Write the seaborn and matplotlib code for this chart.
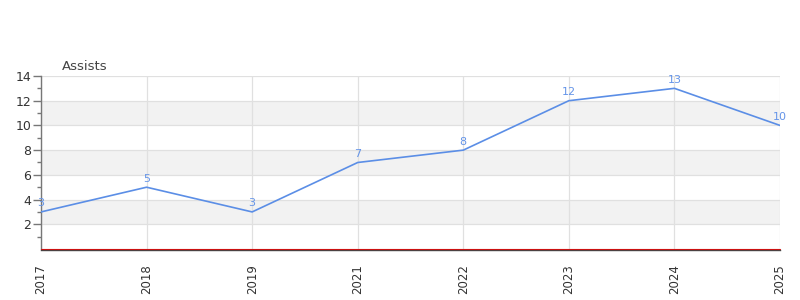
import matplotlib
matplotlib.use("Agg")
import matplotlib.pyplot as plt
import seaborn as sns
import pandas as pd

years = ["2017", "2018", "2019", "2021", "2022", "2023", "2024", "2025"]
assists = [3, 5, 3, 7, 8, 12, 13, 10]

df = pd.DataFrame({"year": years, "assists": assists})

sns.set_theme(style="white")
plt.rcParams["font.family"] = ["DejaVu Sans"]

fig = plt.figure(figsize=(8, 3), dpi=100)
ax = fig.add_axes([0.05125, 0.17, 0.92375, 0.5767])

# alternating bands
for lo in [2, 6, 10]:
    ax.axhspan(lo, lo + 2, color="#f2f2f2", zorder=0, lw=0)

sns.lineplot(data=df, x="year", y="assists", ax=ax, color="#5b8ee6", lw=1.2, zorder=3)

for i, (y, v) in enumerate(zip(years, assists)):
    ax.annotate(str(v), (i, v), xytext=(0, 2.5), textcoords="offset points",
                ha="center", va="bottom", fontsize=8, color="#6494e8", zorder=4)

ax.set_xlim(0, len(years) - 1)
ax.set_ylim(0, 14)
ax.set_yticks([2, 4, 6, 8, 10, 12, 14])
ax.set_yticks(range(1, 15, 2), minor=True)
ax.grid(True, axis="both", color="#e0e0e0", lw=0.9, zorder=1)
ax.set_axisbelow(True)

ax.axhline(0, color="#cc1111", lw=0.8, zorder=5, clip_on=False)

for s in ["top", "right"]:
    ax.spines[s].set_visible(False)
ax.spines["left"].set_color("#777777")
ax.spines["left"].set_linewidth(1)
ax.spines["bottom"].set_color("#444444")
ax.spines["bottom"].set_linewidth(1.0)
ax.spines["bottom"].set_position(("outward", 1))

ax.tick_params(axis="y", which="major", left=True, length=6, width=1, color="#777777",
               labelsize=9, labelcolor="#333333", pad=1)
ax.tick_params(axis="y", which="minor", left=True, length=3, width=1, color="#777777")
ax.tick_params(axis="x", bottom=False, labelsize=8.5, labelcolor="#333333", labelrotation=90, pad=4)

ax.set_xlabel("")
ax.set_ylabel("")
ax.set_title("Assists", loc="left", fontsize=9.5, color="#444444", x=0.028, pad=4)

fig.savefig("out.png", dpi=100)
